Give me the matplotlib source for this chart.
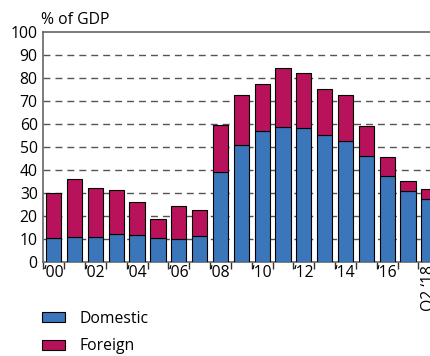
import matplotlib
matplotlib.use("Agg")
import matplotlib.pyplot as plt
import numpy as np

# data (% of GDP)
periods = ["2000", "2001", "2002", "2003", "2004", "2005", "2006", "2007", "2008",
           "2009", "2010", "2011", "2012", "2013", "2014", "2015", "2016", "2017", "Q2 2018"]
domestic = [10.3, 10.7, 10.6, 12.0, 11.6, 10.4, 9.7, 11.3, 39.0,
            50.7, 56.7, 58.5, 58.3, 55.2, 52.5, 45.9, 37.4, 30.8, 27.4]
total = [30.0, 35.7, 32.2, 30.9, 26.1, 18.6, 24.2, 22.6, 59.2,
         72.4, 77.4, 84.0, 82.0, 74.9, 72.3, 58.9, 45.4, 35.1, 31.6]
foreign = [t - d for t, d in zip(total, domestic)]
tick_labels = ["\u201800", "", "\u201802", "", "\u201804", "", "\u201806", "", "\u201808",
               "", "\u201810", "", "\u201812", "", "\u201814", "", "\u201816", "", "Q2 \u201818"]

plt.rcParams['font.family'] = ['Open Sans', 'DejaVu Sans']
fs = 11.3

blue = '#3a76b9'
red = '#b8135a'

fig = plt.figure(figsize=(4.31, 3.56), dpi=100)
ax = fig.add_axes([43.3 / 431, 1 - 261.5 / 356, 396 / 431, 229.8 / 356])

x = np.arange(len(periods))
ax.bar(x, domestic, width=0.73, color=blue, edgecolor='black', linewidth=0.8,
       label='Domestic', zorder=3)
ax.bar(x, foreign, bottom=domestic, width=0.73, color=red, edgecolor='black',
       linewidth=0.8, label='Foreign', zorder=3)

ax.set_xlim(-0.5, len(periods) - 0.5)
ax.set_ylim(0, 100)
ax.set_yticks(np.arange(0, 101, 10))
ax.tick_params(axis='y', length=0, pad=4.0, labelsize=fs, colors='black')

# gridlines (dashed), no line at 0 or 100
for v in range(10, 100, 10):
    ax.axhline(v, color='#555555', linewidth=1.0, linestyle=(0, (5, 3.6)), zorder=1)

# ticks at the bar boundaries, labels centred under bars
ax.set_xticks(np.arange(-0.5, len(periods), 1.0))
ax.set_xticklabels([])
ax.tick_params(axis='x', which='major', length=5, width=1, color='#333333', direction='out')
ax.set_xticks(x, minor=True)
ax.set_xticklabels(tick_labels, minor=True)
ax.tick_params(axis='x', which='minor', length=0, pad=2.5, labelsize=fs)
last = ax.get_xticklabels(minor=True)[-1]
last.set_rotation(90)
last.set_va('top')

for side in ['left', 'top', 'bottom', 'right']:
    ax.spines[side].set_color('#666666')
    ax.spines[side].set_linewidth(1.2)

fig.text(41 / 431, 1 - 24 / 356, '% of GDP', fontsize=fs, va='baseline', ha='left')

ax.legend(loc='upper left', bbox_to_anchor=(42 / 431, 1 - 311 / 356),
          bbox_transform=fig.transFigure, frameon=False, borderpad=0,
          handlelength=1.45, handleheight=0.6, handletextpad=0.95,
          labelspacing=0.72, fontsize=fs, borderaxespad=0)

fig.savefig('out.png', dpi=100)
